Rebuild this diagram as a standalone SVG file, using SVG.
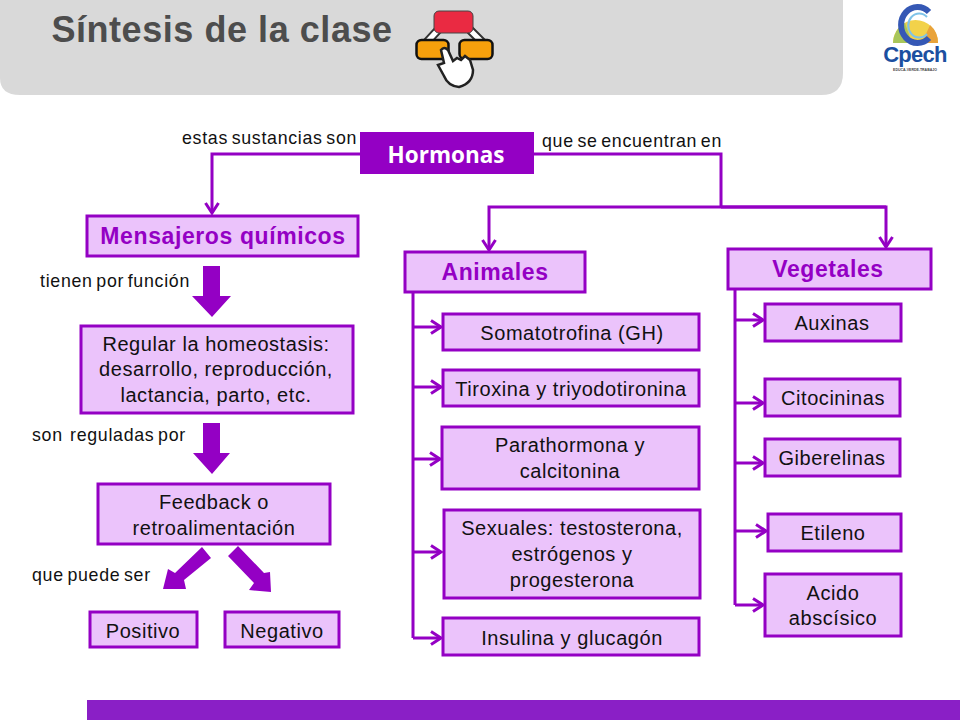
<svg xmlns="http://www.w3.org/2000/svg" width="960" height="720" viewBox="0 0 960 720">
<style>
text{font-family:"Liberation Sans",Arial,sans-serif;text-anchor:middle}
.b{fill:#ebc3fb;stroke:#9400c4;stroke-width:3}
.t{font-size:20px;fill:#111;letter-spacing:.55px}
.h{font-size:23px;font-weight:bold;fill:#9400c4;letter-spacing:.6px}
.l{font-size:17.800px;fill:#111;text-anchor:start;letter-spacing:.7px;word-spacing:-2px}
.c{fill:none;stroke:#9400c4;stroke-width:3}
.a{fill:none;stroke:#9400c4;stroke-width:3;marker-end:url(#m)}
.f{fill:#9400c4}
</style>
<defs>
<marker id="m" markerUnits="userSpaceOnUse" markerWidth="16" markerHeight="16" refX="12" refY="8" orient="auto"><path d="M2 1.500L12 8L2 14.500" fill="none" stroke="#9400c4" stroke-width="3"/></marker>
</defs>
<rect width="960" height="720" fill="#fff"/>
<g id="header">
<path d="M0 0H843V73Q843 95 821 95H20Q0 95 0 78Z" fill="#d9d9d9"/>
<text x="222" y="42" style="font-size:36px;font-weight:bold;fill:#4d4d4d;letter-spacing:.55px">Síntesis de la clase</text>
</g>
<g id="icon">
<path d="M438 30L426 43M470 30L483 43" stroke="#333" stroke-width="9" fill="none"/>
<path d="M438 30L426 43M470 30L483 43" stroke="#fff" stroke-width="5" fill="none"/>
<rect x="434" y="11" width="39" height="22" rx="5" fill="#ea2a42" stroke="#444" stroke-width="1"/>
<rect x="416.500" y="40" width="32" height="19" rx="5" fill="#f6a00c" stroke="#111" stroke-width="2.500"/>
<rect x="459.500" y="40" width="33" height="19" rx="5" fill="#f6a00c" stroke="#111" stroke-width="2.500"/>
<path d="M441 50Q444 46 448 50L453 61L457 58L461 60L465 56L470 60L473 70Q473 83 459 87Q448 86 444 76L438 65L444 63Z" fill="#fff" stroke="#222" stroke-width="2.500"/>
</g>
<g id="logo">
<path d="M893 43A22.500 23 0 0 1 938 43Z" fill="#f2d24a"/>
<path d="M893 43A22.500 23 0 0 1 905 23L912 43Z" fill="#a8c65a"/>
<path d="M938 43A22.500 23 0 0 0 930 25L922 43Z" fill="#e9a33a"/>
<path d="M929 12A16.500 18 0 1 0 929 38" fill="none" stroke="#3558b5" stroke-width="6"/>
<path d="M927 17A11 12 0 1 0 927 34" fill="none" stroke="#7fc3e8" stroke-width="2"/>
<text x="915" y="62" style="font-size:22px;font-weight:bold;fill:#1c4fa0;letter-spacing:-.7px">Cpech</text>
<text x="915" y="71" style="font-size:3.500px;font-weight:bold;fill:#444">EDUCA-VERDE-TRABAJO</text>
</g>
<g id="connectors">
<path class="a" d="M360 154H212V213"/>
<path class="c" d="M534 154H721V207"/>
<path class="a" d="M886 207H489V250"/>
<path class="a" d="M721 207H886V247"/>
<path class="c" d="M413 292V638"/>
<path class="a" d="M413 327H441"/>
<path class="a" d="M413 387H441"/>
<path class="a" d="M413 459H440"/>
<path class="a" d="M413 552H441"/>
<path class="a" d="M413 638H441"/>
<path class="c" d="M735 289V605"/>
<path class="a" d="M735 320H763"/>
<path class="a" d="M735 403H763"/>
<path class="a" d="M735 463H763"/>
<path class="a" d="M735 531H766"/>
<path class="a" d="M735 605H763"/>
<path class="f" d="M203 266H220V296H231L212 317L192 296H203Z"/>
<path class="f" d="M203 423H220V453H230L212 474L193 453H203Z"/>
<path class="f" d="M202 547L211 558L184 580L186 589L163 589L168 569L175 573Z"/>
<path class="f" d="M228 556L238 546L264 573L270 572L271 592L249 590L254 583Z"/>
</g>
<g id="labels">
<text class="l" x="182" y="144">estas sustancias son</text>
<text class="l" x="542" y="147">que se encuentran en</text>
<text class="l" x="40" y="287">tienen por función</text>
<text class="l" x="32" y="441">son&#160; reguladas por</text>
<text class="l" x="32" y="581">que puede ser</text>
</g>
<g id="hormonas"><rect x="360" y="132" width="174" height="42" fill="#9400c4"/><text x="446" y="163" style="font-family:'Open Sans','Liberation Sans',sans-serif;font-size:22.500px;font-weight:bold;fill:#fff">Hormonas</text></g>
<g id="mensajeros"><rect class="b" x="87" y="216" width="271" height="40"/><text class="h" x="223" y="244">Mensajeros químicos</text></g>
<g id="regular"><rect class="b" x="81" y="326" width="272" height="87"/><text class="t" x="216" y="351">Regular la homeostasis:</text><text class="t" x="216" y="376">desarrollo, reproducción,</text><text class="t" x="216" y="402">lactancia, parto, etc.</text></g>
<g id="feedback"><rect class="b" x="98" y="484" width="232" height="60"/><text class="t" x="214" y="509">Feedback o</text><text class="t" x="214" y="535">retroalimentación</text></g>
<g id="positivo"><rect class="b" x="90" y="612" width="107" height="35"/><text class="t" x="143" y="638">Positivo</text></g>
<g id="negativo"><rect class="b" x="225" y="612" width="114" height="35"/><text class="t" x="282" y="638">Negativo</text></g>
<g id="animales"><rect class="b" x="405" y="252" width="180" height="40"/><text class="h" x="495" y="280">Animales</text></g>
<g id="somatotrofina"><rect class="b" x="443" y="314" width="256" height="36"/><text class="t" x="572" y="340">Somatotrofina (GH)</text></g>
<g id="tiroxina"><rect class="b" x="443" y="370" width="256" height="36"/><text class="t" x="571" y="396">Tiroxina y triyodotironina</text></g>
<g id="parathormona"><rect class="b" x="442" y="427" width="257" height="62"/><text class="t" x="570" y="452">Parathormona y</text><text class="t" x="570" y="478">calcitonina</text></g>
<g id="sexuales"><rect class="b" x="444" y="510" width="256" height="88"/><text class="t" x="572" y="535">Sexuales: testosterona,</text><text class="t" x="572" y="561">estrógenos y</text><text class="t" x="572" y="587">progesterona</text></g>
<g id="insulina"><rect class="b" x="443" y="618" width="256" height="37"/><text class="t" x="572" y="645">Insulina y glucagón</text></g>
<g id="vegetales"><rect class="b" x="728" y="249" width="203" height="40"/><text class="h" x="828" y="277">Vegetales</text></g>
<g id="auxinas"><rect class="b" x="765" y="304" width="136" height="37"/><text class="t" x="832" y="330">Auxinas</text></g>
<g id="citocininas"><rect class="b" x="765" y="379" width="135" height="37"/><text class="t" x="833" y="405">Citocininas</text></g>
<g id="giberelinas"><rect class="b" x="765" y="439" width="135" height="37"/><text class="t" x="832" y="465">Giberelinas</text></g>
<g id="etileno"><rect class="b" x="768" y="514" width="133" height="37"/><text class="t" x="833" y="540">Etileno</text></g>
<g id="acido"><rect class="b" x="765" y="574" width="136" height="62"/><text class="t" x="833" y="600">Acido</text><text class="t" x="833" y="625">abscísico</text></g>
<rect id="footer" x="87" y="700" width="873" height="20" fill="#8a1fc6"/>
</svg>
